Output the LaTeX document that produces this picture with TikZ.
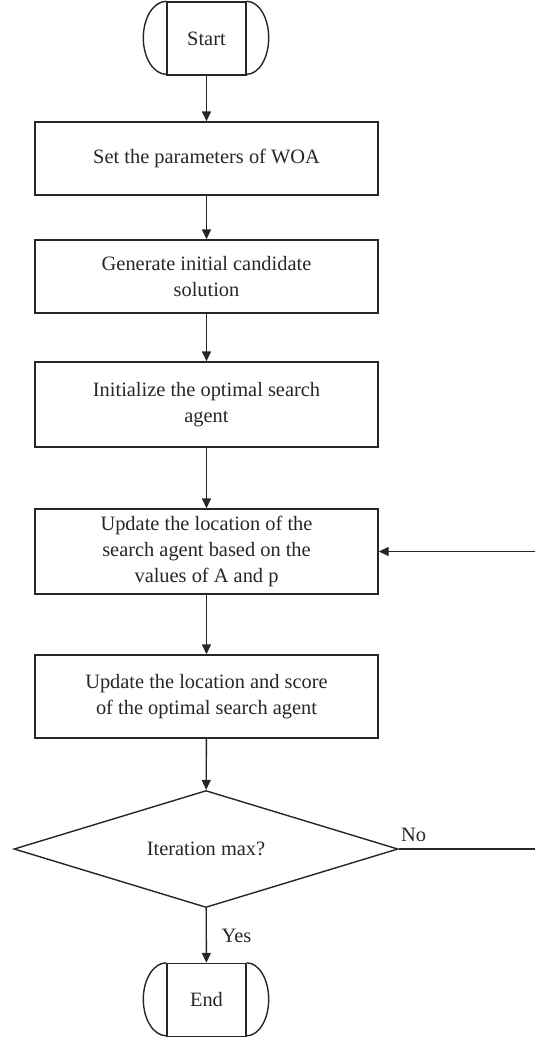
\documentclass[tikz,border=0pt]{standalone}
\usepackage{fontspec}
\setmainfont{Liberation Serif}
\usetikzlibrary{shapes.geometric,arrows.meta}

\begin{document}
\begin{tikzpicture}[x=0.5pt,y=-0.5pt,
    line width=0.7pt, draw=black!85, text=black!85,
    font=\fontsize{10.2}{13}\selectfont,
    proc/.style={draw, rectangle, minimum width=171.5pt, align=center, inner sep=2pt},
    term/.style={draw, rectangle, minimum width=39.5pt, minimum height=36.5pt},
    decide/.style={draw, diamond, aspect=3.3, minimum width=192pt, minimum height=58.5pt},
    arr/.style={-{Triangle[length=5pt,width=4.5pt]}}]
    \clip (0,0) rectangle (535,1041);

    \node[term] (st) at (206.5,38.5) {Start};
    \node[proc, minimum height=36.5pt] (par) at (206.5,158.5) {Set the parameters of WOA};
    \node[proc, minimum height=36.5pt] (gen) at (206.5,276.5) {Generate initial candidate\\solution};
    \node[proc, minimum height=42.5pt] (ini) at (206.5,404.5) {Initialize the optimal search\\agent};
    \node[proc, minimum height=42.5pt] (upd) at (206.5,551.5) {Update the location of the\\search agent based on the\\values of A and p};
    \node[proc, minimum height=41.5pt] (sco) at (206.5,696.5) {Update the location and score\\of the optimal search agent};
    \node[decide] (dec) at (206,849) {Iteration max?};
    \node[term] (en) at (206.5,1000) {End};

    % rounded ends of start and end
    \foreach \t in {st,en}
        \draw (\t.north west) arc[start angle=90, end angle=270, x radius=11.5pt, y radius=18.25pt]
              (\t.north east) arc[start angle=90, end angle=-90, x radius=11pt, y radius=18.25pt];

    \draw[arr] (st) -- (par);
    \draw[arr] (par) -- (gen);
    \draw[arr] (gen) -- (ini);
    \draw[arr] (ini) -- (upd);
    \draw[arr] (upd) -- (sco);
    \draw[arr] (sco) -- (dec);
    \draw[arr] (dec) -- node[right, xshift=4pt] {Yes} (en);
    \draw[arr] (dec.east) -- node[above, pos=0.1] {No} ++(150,0) |- (upd.east);
\end{tikzpicture}
\end{document}
